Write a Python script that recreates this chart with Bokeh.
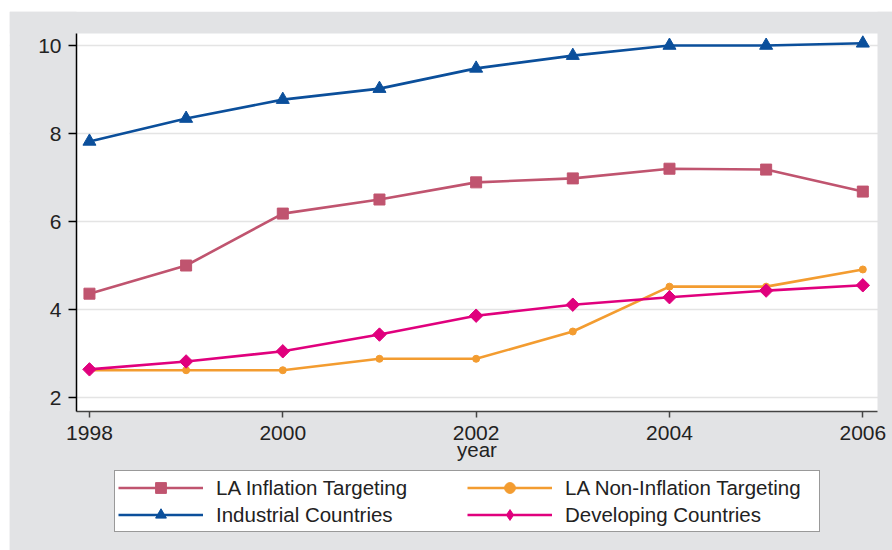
import numpy as np
from bokeh.plotting import figure
from bokeh.models import Legend, LegendItem, FixedTicker, Range1d, BoxAnnotation
from bokeh.embed import file_html
from bokeh.resources import INLINE

years = [1998, 1999, 2000, 2001, 2002, 2003, 2004, 2005, 2006]
la_it = [4.36, 5.00, 6.18, 6.50, 6.89, 6.98, 7.20, 7.18, 6.68]
la_nonit = [2.62, 2.62, 2.62, 2.88, 2.88, 3.50, 4.52, 4.52, 4.91]
industrial = [7.82, 8.34, 8.77, 9.02, 9.48, 9.77, 10.00, 10.00, 10.05]
developing = [2.64, 2.82, 3.05, 3.43, 3.86, 4.11, 4.28, 4.43, 4.55]

x_ticks = [1998, 2000, 2002, 2004, 2006]
y_ticks = [2, 4, 6, 8, 10]
labels = ["LA Inflation Targeting", "LA Non-Inflation Targeting",
          "Industrial Countries", "Developing Countries"]

C_IT = "#c0546f"
C_NON = "#f39c30"
C_IND = "#0b4f9b"
C_DEV = "#e0007d"
BG = "#e2e3e5"
FONT = "Liberation Sans"

# plot region (data units)
X_LEFT, X_RIGHT = 1997.866, 2006.152
Y_BOTTOM, Y_TOP = 1.69, 10.273
W, H = 883, 539
PX_X = 96.67   # px per year
PX_Y = 44.0    # px per unit
x0 = X_LEFT - 67 / PX_X
y1 = Y_TOP + 22 / PX_Y

p = figure(width=W, height=H, margin=(11, 0, 0, 9),
           output_backend="svg", toolbar_location=None,
           x_range=Range1d(x0, x0 + W / PX_X),
           y_range=Range1d(y1 - H / PX_Y, y1),
           min_border_left=0, min_border_right=0, min_border_top=0,
           min_border_bottom=0)
p.border_fill_color = BG
p.background_fill_color = "white"
p.outline_line_color = None

# grey surround of the plot region
for kw in (dict(top=Y_BOTTOM), dict(bottom=Y_TOP), dict(right=X_LEFT), dict(left=X_RIGHT)):
    p.add_layout(BoxAnnotation(fill_color=BG, fill_alpha=1.0, line_color=None,
                               level="underlay", **kw))

# axes
p.xaxis.fixed_location = Y_BOTTOM
p.yaxis.fixed_location = X_LEFT
p.xaxis.bounds = (X_LEFT, X_RIGHT)
p.yaxis.bounds = (Y_BOTTOM, Y_TOP)
p.xaxis.ticker = FixedTicker(ticks=x_ticks)
p.yaxis.ticker = FixedTicker(ticks=y_ticks)
p.xaxis.axis_label = "year"
p.xaxis.axis_label_text_font = FONT
p.xaxis.axis_label_text_font_size = "20.5px"
p.xaxis.axis_label_text_font_style = "normal"
p.xaxis.axis_label_text_color = "#222222"
p.xaxis.axis_label_standoff = -6
for ax in (p.xaxis, p.yaxis):
    ax.major_label_text_font = FONT
    ax.major_label_text_font_size = "21px"
    ax.major_label_text_color = "#222222"
    ax.minor_tick_line_color = None
    ax.major_tick_in = 0
    ax.axis_line_width = 1.5
    ax.major_tick_line_width = 1.5
p.xaxis.major_tick_out = 6
p.yaxis.major_tick_out = 8
p.xaxis.axis_line_color = "#444444"
p.xaxis.major_tick_line_color = "#444444"
p.yaxis.axis_line_color = "#000000"
p.yaxis.major_tick_line_color = "#000000"
p.xaxis.major_label_standoff = 9
p.yaxis.major_label_standoff = 7

p.xgrid.grid_line_color = None
p.ygrid.grid_line_color = "#e4e4e4"
p.ygrid.grid_line_width = 1.5

LW = 2.6
r1l = p.line(years, la_it, line_color=C_IT, line_width=LW)
r1m = p.scatter(years, la_it, marker="square", size=11, fill_color=C_IT, line_color=C_IT)
r2l = p.line(years, la_nonit, line_color=C_NON, line_width=LW)
r2m = p.scatter(years, la_nonit, marker="circle", size=7, fill_color=C_NON, line_color=C_NON)
r3l = p.line(years, industrial, line_color=C_IND, line_width=LW)
r3m = p.scatter(years, industrial, marker="triangle", size=13, fill_color=C_IND, line_color=C_IND)
r4l = p.line(years, developing, line_color=C_DEV, line_width=LW)
r4m = p.scatter(years, developing, marker="square", angle=np.pi / 4, size=9.5,
                fill_color=C_DEV, line_color=C_DEV)
# legend-only swatch for the diamond (the legend ignores marker angle)
r4k = p.scatter(years, developing, marker="diamond", size=15,
                fill_color=C_DEV, line_color=C_DEV, visible=False)

legend = Legend(items=[
    LegendItem(label=labels[0], renderers=[r1l, r1m]),
    LegendItem(label=labels[2], renderers=[r3l, r3m]),
    LegendItem(label=labels[1], renderers=[r2l, r2m]),
    LegendItem(label=labels[3], renderers=[r4l, r4k]),
], ncols=2, location=(105, 18))
legend.label_text_font = FONT
legend.label_text_font_size = "20.5px"
legend.label_text_color = "#222222"
legend.glyph_width = 85
legend.glyph_height = 27
legend.label_height = 22
legend.label_width = 251
legend.label_standoff = 13
legend.spacing = 0
legend.padding = 3
legend.margin = 0
legend.border_line_color = "#333333"
legend.border_line_width = 1.5
legend.background_fill_color = "white"
legend.background_fill_alpha = 1.0
p.add_layout(legend, "center")

open("out.html", "w").write(file_html(p, INLINE))
